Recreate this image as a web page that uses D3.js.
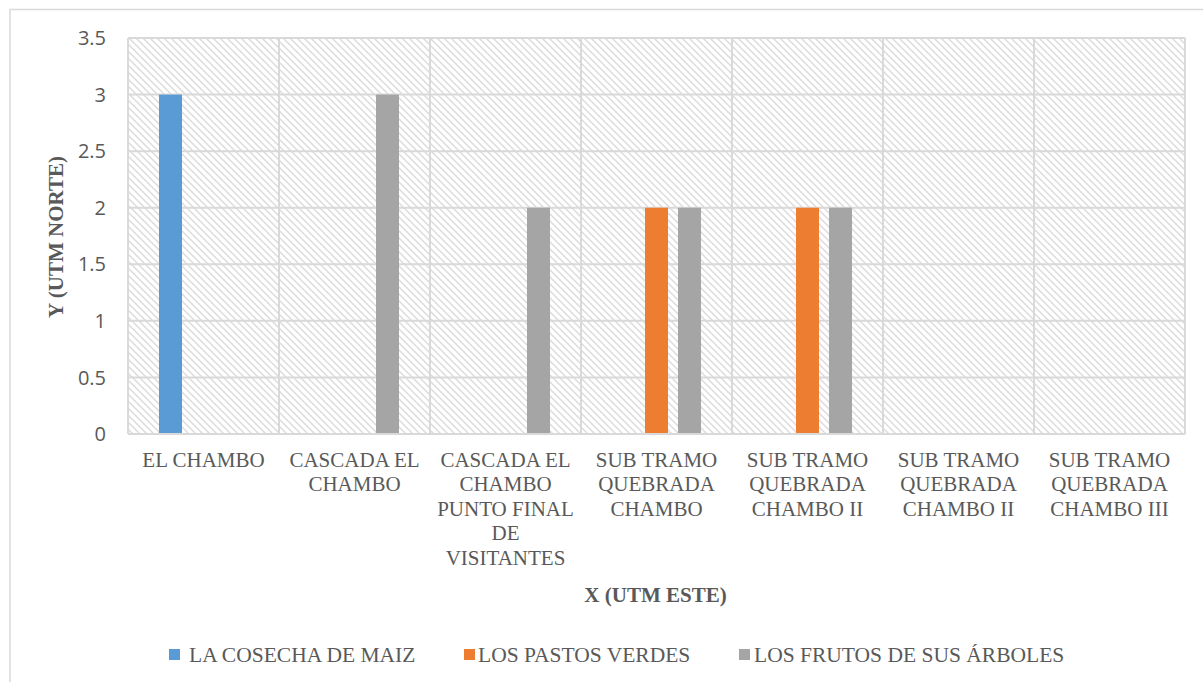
<!DOCTYPE html>
<html>
<head>
<meta charset="utf-8">
<script src="https://cdn.jsdelivr.net/npm/d3@7/dist/d3.min.js"></script>
<style>
  html, body { margin: 0; padding: 0; background: #fff; }
  svg { display: block; }
</style>
</head>
<body>
<svg id="chart" width="1203" height="682"></svg>
<script>
// ---- data ----
const categories = [
  "EL CHAMBO",
  "CASCADA EL CHAMBO",
  "CASCADA EL CHAMBO PUNTO FINAL DE VISITANTES",
  "SUB TRAMO QUEBRADA CHAMBO",
  "SUB TRAMO QUEBRADA CHAMBO II",
  "SUB TRAMO QUEBRADA CHAMBO II",
  "SUB TRAMO QUEBRADA CHAMBO III"
];
const seriesNames = ["LA COSECHA DE MAIZ", "LOS PASTOS VERDES", "LOS FRUTOS DE SUS ÁRBOLES"];
const cosechaMaiz   = [3, 0, 0, 0, 0, 0, 0];
const pastosVerdes  = [0, 0, 0, 2, 2, 0, 0];
const frutosArboles = [0, 3, 2, 2, 2, 0, 0];
const seriesColors = ["#5B9BD5", "#ED7D31", "#A5A5A5"];
const yTicks = [0, 0.5, 1, 1.5, 2, 2.5, 3, 3.5];
const xTitle = "X (UTM ESTE)";
const yTitle = "Y (UTM NORTE)";

const seriesValues = [cosechaMaiz, pastosVerdes, frutosArboles];

// ---- layout ----
const svg = d3.select("#chart");
const plot = { left: 128, top: 38, right: 1185, bottom: 434 };
const serif = "'Liberation Serif', 'Times New Roman', serif";
const textColor = "#595959";
const gridColor = "#D9D9D9";

// outer chart border
svg.append("rect")
  .attr("x", 10).attr("y", 9.5).attr("width", 1210).attr("height", 700)
  .attr("fill", "#fff").attr("stroke", gridColor).attr("stroke-width", 1.5);

// hatch pattern
const defs = svg.append("defs");
const pat = defs.append("pattern")
  .attr("id", "hatch").attr("patternUnits", "userSpaceOnUse")
  .attr("width", 7).attr("height", 7);
pat.append("rect").attr("width", 7).attr("height", 7).attr("fill", "#fff");
pat.append("path").attr("d", "M-1,-1 L8,8 M-1,6 L1,8 M6,-1 L8,1")
  .attr("stroke", "#DCDCDC").attr("stroke-width", 1.5);

const x0 = d3.scaleBand().domain(d3.range(categories.length))
  .range([plot.left, plot.right]).paddingInner(0).paddingOuter(0);
const bw = x0.bandwidth();
const x1 = d3.scaleBand().domain(d3.range(seriesNames.length))
  .range([bw * 31 / 151, bw * 120 / 151]).paddingInner(10 / 33).paddingOuter(0);
const y = d3.scaleLinear().domain([0, 3.5]).range([plot.bottom, plot.top]);

// plot background
svg.append("rect")
  .attr("x", plot.left).attr("y", plot.top)
  .attr("width", plot.right - plot.left).attr("height", plot.bottom - plot.top)
  .attr("fill", "url(#hatch)");

// horizontal gridlines
svg.append("g").selectAll("line").data(yTicks).join("line")
  .attr("x1", plot.left).attr("x2", plot.right)
  .attr("y1", d => y(d)).attr("y2", d => y(d))
  .attr("stroke", gridColor).attr("stroke-width", 2);

// vertical category gridlines
const vLines = d3.range(categories.length + 1).map(i => i < categories.length ? x0(i) : plot.right);
svg.append("g").selectAll("line").data(vLines).join("line")
  .attr("x1", d => d).attr("x2", d => d)
  .attr("y1", plot.top).attr("y2", plot.bottom)
  .attr("stroke", gridColor).attr("stroke-width", 2);

// bars
const barData = [];
seriesValues.forEach((vals, s) => vals.forEach((v, c) => barData.push({ s, c, v })));
svg.append("g").selectAll("rect").data(barData.filter(d => d.v > 0)).join("rect")
  .attr("x", d => x0(d.c) + x1(d.s))
  .attr("y", d => y(d.v))
  .attr("width", x1.bandwidth())
  .attr("height", d => y(0) - y(d.v))
  .attr("fill", d => seriesColors[d.s]);

// baseline
svg.append("line")
  .attr("x1", plot.left).attr("x2", plot.right)
  .attr("y1", y(0)).attr("y2", y(0))
  .attr("stroke", gridColor).attr("stroke-width", 2);

// y tick labels
svg.append("g").selectAll("text").data(yTicks).join("text")
  .attr("x", 106).attr("y", d => y(d))
  .attr("dy", "0.36em")
  .attr("text-anchor", "end")
  .attr("font-family", "'Open Sans', sans-serif")
  .attr("font-size", 20)
  .attr("fill", textColor)
  .text(d => d);

// x category labels (wrapped)
const maxW = 146;
const lineH = 24.4;
categories.forEach((cat, i) => {
  const t = svg.append("text")
    .attr("x", x0(i) + bw / 2).attr("y", plot.bottom + 33)
    .attr("text-anchor", "middle")
    .attr("font-family", serif).attr("font-size", 21)
    .attr("fill", textColor);
  const words = cat.split(" ");
  let line = [];
  let tspan = t.append("tspan").attr("x", x0(i) + bw / 2).attr("dy", 0);
  words.forEach(w => {
    line.push(w);
    tspan.text(line.join(" "));
    if (tspan.node().getComputedTextLength() > maxW && line.length > 1) {
      line.pop();
      tspan.text(line.join(" "));
      line = [w];
      tspan = t.append("tspan").attr("x", x0(i) + bw / 2).attr("dy", lineH).text(w);
    }
  });
});

// axis titles
svg.append("text")
  .attr("x", 655.5).attr("y", 602)
  .attr("text-anchor", "middle")
  .attr("font-family", serif).attr("font-size", 21).attr("font-weight", "bold")
  .attr("fill", textColor)
  .text(xTitle);

svg.append("text")
  .attr("transform", "translate(63,237) rotate(-90)")
  .attr("text-anchor", "middle")
  .attr("font-family", serif).attr("font-size", 21).attr("font-weight", "bold")
  .attr("fill", textColor)
  .text(yTitle);

// legend
const legendSquareX = [169, 464, 739];
const legendTextX = [189, 478, 754];
const lg = svg.append("g");
seriesNames.forEach((name, i) => {
  lg.append("rect")
    .attr("x", legendSquareX[i]).attr("y", 649)
    .attr("width", 11).attr("height", 11)
    .attr("fill", seriesColors[i]);
  lg.append("text")
    .attr("x", legendTextX[i]).attr("y", 661.5)
    .attr("font-family", serif).attr("font-size", 21.5)
    .attr("fill", textColor)
    .text(name);
});
</script>
</body>
</html>
